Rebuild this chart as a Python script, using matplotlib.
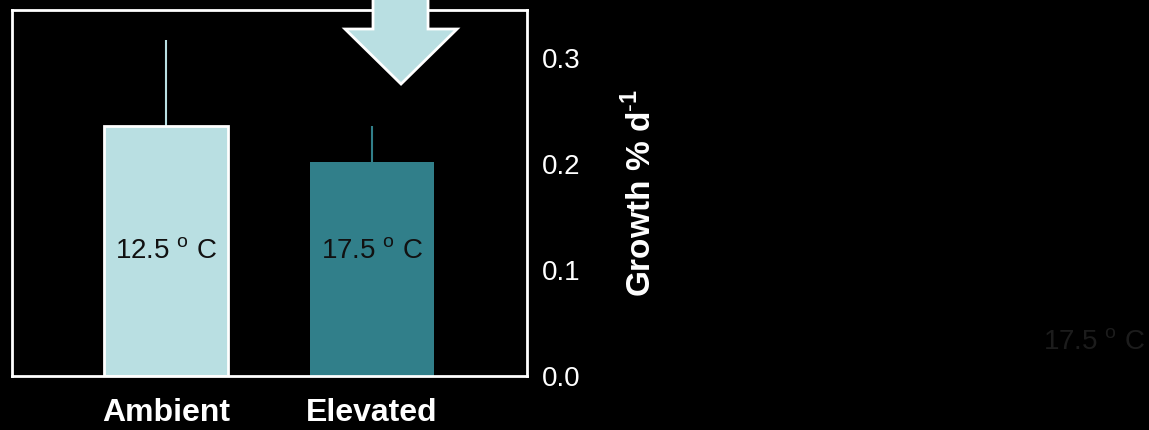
import numpy as np
import matplotlib
matplotlib.use("Agg")
import matplotlib.pyplot as plt
from matplotlib.patches import Polygon

plt.rcParams['font.family'] = ['Liberation Sans', 'DejaVu Sans']
plt.rcParams['mathtext.fontset'] = 'custom'
plt.rcParams['mathtext.rm'] = 'Liberation Sans'
plt.rcParams['mathtext.bf'] = 'Liberation Sans:bold'

categories = ["Ambient", "Elevated"]
growth = [0.236, 0.202]
growth_err = [0.081, 0.034]
temp_labels = [r"12.5 $^{\mathrm{o}}$ C", r"17.5 $^{\mathrm{o}}$ C"]
y_ticks = [0.0, 0.1, 0.2, 0.3]

light = "#b9dfe2"
teal = "#317f8a"

fig = plt.figure(figsize=(11.49, 4.30), dpi=100)
fig.patch.set_facecolor("black")
ax = fig.add_axes([0.0104, 0.1256, 0.4483, 0.8511])
ax.set_facecolor("black")

x = np.arange(len(categories))
bars = ax.bar(x, growth, width=0.6, color=[light, teal],
              edgecolor=["white", teal], linewidth=[2, 0], zorder=2)
for xi, g, e, c in zip(x, growth, growth_err, [light, teal]):
    ax.errorbar(xi, g, yerr=[[0], [e]], fmt="none", ecolor=c, elinewidth=1.5,
                capsize=0, zorder=1)
for xi, g, t in zip(x, growth, temp_labels):
    ax.text(xi, 0.117, t, ha="center", va="center", fontsize=20,
            color="#111111", zorder=3)

ax.set_xlim(-0.748, 1.752)
ax.set_ylim(0, 0.345)
ax.set_xticks(x)
ax.set_xticklabels(categories, fontsize=23, fontweight="bold", color="white")
ax.set_yticks(y_ticks)
ax.set_yticklabels([f"{v:.1f}" for v in y_ticks], fontsize=20, color="white")
ax.yaxis.tick_right()
ax.tick_params(axis="both", length=0)
ax.tick_params(axis="y", pad=11)
ax.tick_params(axis="x", pad=16)
ax.yaxis.set_label_position("right")
ax.set_ylabel(r"Growth % d$^{\mathbf{\text{-}1}}$", fontsize=24, fontweight="bold",
              color="white", labelpad=30)
for s in ax.spines.values():
    s.set_color("white")
    s.set_linewidth(2)

# big arrow pointing down at the elevated bar
px = [(373, -20), (428, -20), (428, 29), (457, 29), (401, 84), (345, 29), (373, 29)]
verts = [((a - 12) / 515, (376 - b) / 366) for a, b in px]
ax.add_patch(Polygon(verts, closed=True, transform=ax.transAxes, facecolor=light,
                     edgecolor="white", linewidth=2, clip_on=False, zorder=5))

fig.text(0.9965, 0.202, r"17.5 $^{\mathrm{o}}$ C", ha="right", va="center",
         fontsize=20, color="#1c1c1c")

fig.savefig("out.png", dpi=100, facecolor="black")
